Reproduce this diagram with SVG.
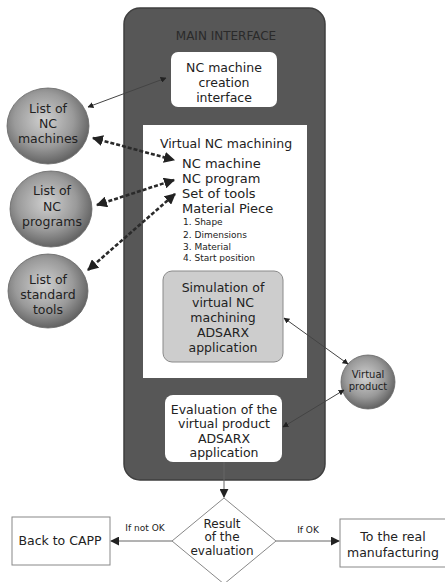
<svg xmlns="http://www.w3.org/2000/svg" width="445" height="582" viewBox="0 0 445 582">
<defs>
<radialGradient id="ball" cx="0.45" cy="0.42" r="0.6">
<stop offset="0" stop-color="#d0d0d0"/>
<stop offset="0.6" stop-color="#9a9a9a"/>
<stop offset="1" stop-color="#5e5e5e"/>
</radialGradient>
<marker id="ah" viewBox="0 0 10 10" refX="9" refY="5" markerWidth="6" markerHeight="6" orient="auto-start-reverse" markerUnits="userSpaceOnUse">
<path d="M0,0 L10,5 L0,10 z" fill="#222"/>
</marker>
<marker id="ahb" viewBox="0 0 10 10" refX="9" refY="5" markerWidth="11" markerHeight="11" orient="auto-start-reverse" markerUnits="userSpaceOnUse">
<path d="M0,0 L10,5 L0,10 z" fill="#222"/>
</marker>
<marker id="ahm" viewBox="0 0 10 10" refX="9" refY="5" markerWidth="9" markerHeight="9" orient="auto-start-reverse" markerUnits="userSpaceOnUse">
<path d="M0,0 L10,5 L0,10 z" fill="#222"/>
</marker>
</defs>
<style>
text{font-family:"DejaVu Sans","Liberation Sans",sans-serif;fill:#222;text-anchor:middle}
.box{fill:#fff}
.ball{fill:url(#ball);stroke:#666;stroke-width:0.8}
.t{font-size:12.5px}
.s{font-size:9px;text-anchor:start}
.l{font-size:13px;text-anchor:start}
.thin{stroke:#444;stroke-width:1;fill:none;marker-start:url(#ah);marker-end:url(#ah)}
.dash{stroke:#2a2a2a;stroke-width:2.6;stroke-dasharray:4 2;fill:none;marker-start:url(#ahb);marker-end:url(#ahb)}
.flow{stroke:#666;stroke-width:1;fill:none;marker-end:url(#ahm)}
.wb{fill:#fff;stroke:#888;stroke-width:1}
</style>

<g id="main-interface">
<rect x="124" y="8" width="201" height="472" rx="16" fill="#575757" stroke="#3f3f3f" stroke-width="1.5"/>
<text x="226" y="40" font-size="12" style="fill:#2a2a2a">MAIN INTERFACE</text>
</g>

<g id="nc-creation">
<rect class="box" x="171" y="52" width="106" height="55" rx="7"/>
<text class="t" x="224" y="71.5">NC machine</text>
<text class="t" x="224" y="86.5">creation</text>
<text class="t" x="224" y="101.5">interface</text>
</g>

<g id="virtual-nc">
<rect class="box" x="143" y="125" width="164" height="253"/>
<text x="226" y="148" font-size="12.5px">Virtual NC machining</text>
<text class="l" x="182" y="167.5">NC machine</text>
<text class="l" x="182" y="183">NC program</text>
<text class="l" x="182" y="198">Set of tools</text>
<text class="l" x="182" y="213">Material Piece</text>
<text class="s" x="183" y="225">1. Shape</text>
<text class="s" x="183" y="238">2. Dimensions</text>
<text class="s" x="183" y="249.5">3. Material</text>
<text class="s" x="183" y="261">4. Start position</text>
</g>

<g id="simulation">
<rect x="163" y="271" width="120" height="91" rx="9" fill="#cdcdcd" stroke="#8a8a8a" stroke-width="1"/>
<text class="t" x="223" y="291.5">Simulation of</text>
<text class="t" x="223" y="306.5">virtual NC</text>
<text class="t" x="223" y="321.5">machining</text>
<text class="t" x="223" y="336.5">ADSARX</text>
<text class="t" x="223" y="351.5">application</text>
</g>

<g id="evaluation">
<rect class="box" x="165" y="395" width="117" height="67" rx="8"/>
<text class="t" x="224" y="414">Evaluation of the</text>
<text class="t" x="224" y="428">virtual product</text>
<text class="t" x="224" y="442.5">ADSARX</text>
<text class="t" x="224" y="457">application</text>
</g>

<g id="list-nc-machines">
<ellipse class="ball" cx="48" cy="126" rx="41" ry="38"/>
<text class="t" x="48" y="112.5">List of</text>
<text class="t" x="48" y="127.5">NC</text>
<text class="t" x="48" y="143">machines</text>
</g>

<g id="list-nc-programs">
<ellipse class="ball" cx="51" cy="209" rx="41" ry="38"/>
<text class="t" x="52" y="194.5">List of</text>
<text class="t" x="52" y="211">NC</text>
<text class="t" x="52" y="226">programs</text>
</g>

<g id="list-standard-tools">
<ellipse class="ball" cx="48" cy="291" rx="40" ry="37"/>
<text class="t" x="48" y="284">List of</text>
<text class="t" x="48" y="299">standard</text>
<text class="t" x="48" y="314">tools</text>
</g>

<g id="virtual-product">
<circle class="ball" cx="368" cy="382" r="27"/>
<text x="368" y="378" font-size="10">Virtual</text>
<text x="368" y="390" font-size="10">product</text>
</g>

<g id="result">
<polygon points="224,498 276,541 224,584 172,541" fill="#fff" stroke="#888" stroke-width="1"/>
<text x="222" y="528" font-size="12">Result</text>
<text x="222" y="541" font-size="12">of the</text>
<text x="222" y="554.5" font-size="12">evaluation</text>
</g>

<g id="back-to-capp">
<rect class="wb" x="12" y="517" width="98" height="48"/>
<text class="t" x="60" y="545">Back to CAPP</text>
</g>

<g id="real-manufacturing">
<rect class="wb" x="340" y="519" width="110" height="48"/>
<text x="393" y="541" font-size="12.5">To the real</text>
<text x="393" y="556.5" font-size="12.5">manufacturing</text>
</g>

<g id="connectors">
<line class="thin" x1="88" y1="107" x2="166" y2="78"/>
<line class="dash" x1="93" y1="138" x2="174" y2="160"/>
<line class="dash" x1="97" y1="205" x2="174" y2="180"/>
<line class="dash" x1="88" y1="270" x2="175" y2="194"/>
<line class="thin" x1="284" y1="318" x2="348" y2="364"/>
<line class="thin" x1="344" y1="390" x2="283" y2="427"/>
<line class="flow" x1="224" y1="462" x2="224" y2="497"/>
<line class="flow" x1="172" y1="541" x2="111" y2="541"/>
<line class="flow" x1="276" y1="541" x2="339" y2="541"/>
<text x="145" y="531" font-size="9">If not OK</text>
<text x="308" y="533" font-size="9">If OK</text>
</g>
</svg>
